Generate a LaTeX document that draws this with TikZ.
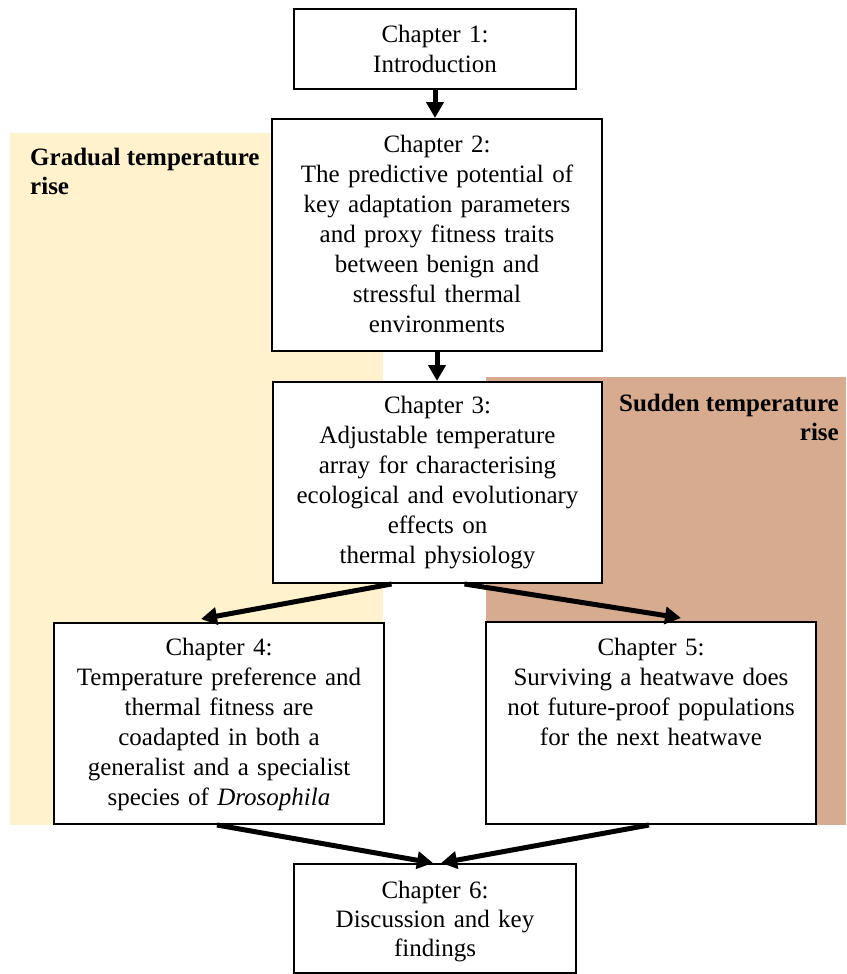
\documentclass[tikz,border=0pt]{standalone}
\usepackage{fontspec}
\setmainfont{Liberation Serif}
\usetikzlibrary{arrows.meta}
\definecolor{gradualbg}{HTML}{FFF2CC}
\definecolor{suddenbg}{HTML}{D7AB8F}
\tikzset{
  chbox/.style={draw=black, line width=2pt, fill=white, inner sep=0pt, anchor=north west},
  chtext/.style={font=\fontsize{25}{30}\selectfont, text width=#1, align=center, inner sep=0pt, anchor=base},
  zonelabel/.style={font=\fontsize{25}{29}\selectfont\bfseries, inner sep=0pt},
  link/.style={line width=5pt, -{Triangle[length=16pt,width=17pt]}}
}
\begin{document}
\begin{tikzpicture}[x=1pt,y=-1pt]
\useasboundingbox (0,0) rectangle (846,974);
% background zones
\fill[gradualbg] (10,133) rectangle (383,825);
\fill[suddenbg] (486,377) rectangle (846,825);
\node[zonelabel, anchor=base west, align=left] (gradual) at (30,194) {Gradual temperature\\rise};
\node[zonelabel, anchor=base east, align=right] (sudden) at (839,440) {Sudden temperature\\rise};
% boxes
\node[chbox, minimum width=282pt, minimum height=80pt] (ch1) at (293,8) {};
\node[chbox, minimum width=330pt, minimum height=232pt] (ch2) at (271,118) {};
\node[chbox, minimum width=329pt, minimum height=201pt] (ch3) at (272,381) {};
\node[chbox, minimum width=330pt, minimum height=201pt] (ch4) at (53,622) {};
\node[chbox, minimum width=330pt, minimum height=202pt] (ch5) at (485,621) {};
\node[chbox, minimum width=282pt, minimum height=109pt] (ch6) at (293,863) {};
% texts
\node[chtext=282pt] (ch1t) at ([yshift=-35pt]ch1.north) {Chapter 1:\\Introduction};
\node[chtext=330pt] (ch2t) at ([yshift=-34pt]ch2.north) {Chapter 2:\\The predictive potential of\\key adaptation parameters\\and proxy fitness traits\\between benign and\\stressful thermal\\environments};
\node[chtext=329pt] (ch3t) at ([yshift=-32pt]ch3.north) {Chapter 3:\\Adjustable temperature\\array for characterising\\ecological and evolutionary\\effects on\\thermal physiology};
\node[chtext=330pt] (ch4t) at ([yshift=-33pt]ch4.north) {Chapter 4:\\Temperature preference and\\thermal fitness are\\coadapted in both a\\generalist and a specialist\\species of \textit{Drosophila}};
\node[chtext=330pt] (ch5t) at ([yshift=-34pt]ch5.north) {Chapter 5:\\Surviving a heatwave does\\not future-proof populations\\for the next heatwave};
\node[chtext=282pt, font=\fontsize{25}{29}\selectfont] (ch6t) at ([yshift=-35pt]ch6.north) {Chapter 6:\\Discussion and key\\findings};
% connectors
\draw[link] (ch1.south) -- (ch1.south |- ch2.north);
\draw[link] (ch2.south) -- (ch2.south |- ch3.north);
\draw[link] ([xshift=-46pt]ch3.south) -- ([xshift=-18pt,yshift=3pt]ch4.north);
\draw[link] ([xshift=27pt]ch3.south) -- ([xshift=30pt,yshift=3pt]ch5.north);
\draw[link] ([xshift=-2pt]ch4.south) -- ([xshift=-2pt]ch6.north);
\draw[link] ([xshift=-2pt]ch5.south) -- ([xshift=6pt]ch6.north);
\end{tikzpicture}
\end{document}
